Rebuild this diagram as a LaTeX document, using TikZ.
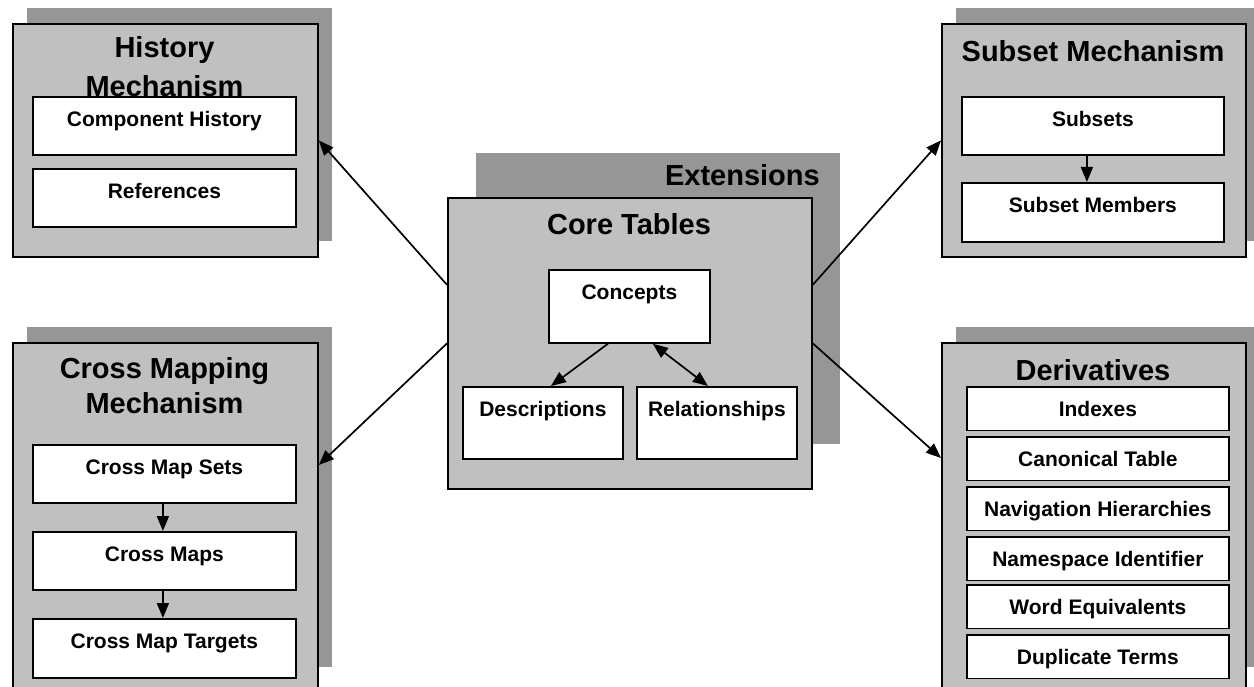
\documentclass[tikz,border=0pt]{standalone}
\usepackage{fontspec}
\setmainfont{Liberation Sans}
\usetikzlibrary{arrows.meta,calc}
\definecolor{frontgray}{RGB}{192,192,192}
\definecolor{shadowgray}{RGB}{150,150,150}
\newcommand\ttlfont{\fontsize{29}{39}\selectfont\bfseries}
\newcommand\boxfont{\fontsize{21}{25}\selectfont\bfseries}
\tikzset{
  grp/.style 2 args={draw, line width=1.8pt, fill=frontgray, anchor=north west, inner sep=0pt, minimum width=#1, minimum height=#2},
  shd/.style 2 args={draw=none, fill=shadowgray, anchor=north west, inner sep=0pt, minimum width=#1, minimum height=#2},
  ttl/.style={font=\ttlfont, align=center, inner sep=0pt},
  ibox/.style 2 args={draw, fill=white, line width=1.8pt, anchor=north west, inner sep=0pt, minimum width=#1, text height=29.5pt, text depth=#2, font=\boxfont},
  arr/.style={line width=1.7pt, -{Triangle[length=15pt,width=12pt]}},
  darr/.style={line width=1.7pt, {Triangle[length=15pt,width=12pt]}-{Triangle[length=15pt,width=12pt]}}
}
\begin{document}
\begin{tikzpicture}[x=1pt,y=-1pt]
\useasboundingbox (0,0) rectangle (1254,687);
\clip (0,0) rectangle (1254,687);
% shadows
\node[shd={305pt}{233pt}] (histS) at (27,8) {};
\node[shd={305pt}{340pt}] (crossS) at (27,327) {};
\node[shd={304pt}{233pt}] (subsetS) at (956,8) {};
\node[shd={304pt}{340pt}] (derivS) at (956,327) {};
\node[shd={364pt}{291pt}] (ext) at (476,153) {};
\node[ttl, anchor=base east] (extT) at (820,186) {Extensions};
% group boxes
\node[grp={305pt}{233pt}] (hist) at (12,23) {};
\node[grp={305pt}{350pt}] (cross) at (12,342) {};
\node[grp={304pt}{233pt}] (subset) at (941,23) {};
\node[grp={304pt}{350pt}] (deriv) at (941,342) {};
\node[grp={364pt}{291pt}] (core) at (447,197) {};
% titles (base = last line baseline)
\node[ttl, anchor=base] (histT) at (164.5,97) {History\\Mechanism};
\node[ttl, anchor=base] (subsetT) at (1093,62) {Subset Mechanism};
\node[ttl, anchor=base] (coreT) at (629,235) {Core Tables};
\node[ttl, anchor=base, font=\fontsize{29}{35}\selectfont\bfseries] (crossT) at (164.5,413) {Cross Mapping\\Mechanism};
\node[ttl, anchor=base] (derivT) at (1093,380) {Derivatives};
% inner boxes
\node[ibox={263pt}{28.5pt}] (comphist) at (32,96) {Component History};
\node[ibox={263pt}{28.5pt}] (refs) at (32,168) {References};
\node[ibox={262pt}{28.5pt}] (subsets) at (961,96) {Subsets};
\node[ibox={262pt}{29.5pt}] (members) at (961,182) {Subset Members};
\node[ibox={161pt}{43.5pt}] (concepts) at (548,269) {Concepts};
\node[ibox={160pt}{42.5pt}] (desc) at (462,386) {Descriptions};
\node[ibox={160pt}{42.5pt}] (rel) at (636,386) {Relationships};
\node[ibox={263pt}{28.5pt}] (cms) at (32,444) {Cross Map Sets};
\node[ibox={263pt}{28.5pt}] (cm) at (32,531) {Cross Maps};
\node[ibox={263pt}{29.5pt}] (cmt) at (32,618) {Cross Map Targets};
\node[ibox={262pt}{14pt}] (d1) at (966,386) {Indexes};
\node[ibox={262pt}{14pt}] (d2) at (966,436) {Canonical Table};
\node[ibox={262pt}{14pt}] (d3) at (966,486) {Navigation Hierarchies};
\node[ibox={262pt}{14pt}] (d4) at (966,536) {Namespace Identifier};
\node[ibox={262pt}{14pt}] (d5) at (966,584) {Word Equivalents};
\node[ibox={262pt}{14pt}] (d6) at (966,634) {Duplicate Terms};
% inner arrows
\draw[arr] ([xshift=-6pt]subsets.south) -- ([xshift=-6pt]members.north);
\draw[arr] ([xshift=-1.5pt]cms.south) -- ([xshift=-1.5pt]cm.north);
\draw[arr] ([xshift=-1.5pt]cm.south) -- ([xshift=-1.5pt]cmt.north);
\draw[arr] ([xshift=-21.5pt]concepts.south) -- ([xshift=8pt]desc.north);
\draw[darr] ([xshift=23.5pt]concepts.south) -- ([xshift=-9pt]rel.north);
% main arrows
\coordinate (cLU) at ($(core.north west)!0.3!(core.south west)$);
\coordinate (cRU) at ($(core.north east)!0.3!(core.south east)$);
\coordinate (crossIn) at ($(cross.north east)+(0,123)$);
\coordinate (derivIn) at ($(deriv.north west)+(0,116)$);
\draw[arr] (cLU) -- (hist.east);
\draw[arr] (core.west) -- (crossIn);
\draw[arr] (cRU) -- (subset.west);
\draw[arr] (core.east) -- (derivIn);
\end{tikzpicture}
\end{document}
